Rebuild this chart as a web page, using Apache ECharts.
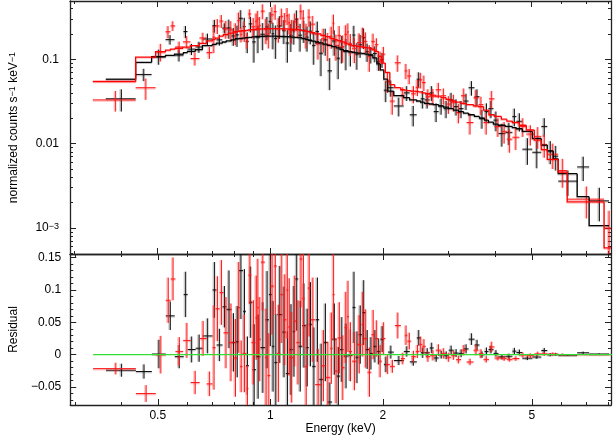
<!DOCTYPE html>
<html><head><meta charset="utf-8">
<script src="https://cdn.jsdelivr.net/npm/echarts@6/dist/echarts.min.js"></script>
<style>html,body{margin:0;padding:0;background:#fff}#c{width:613px;height:436px}</style>
</head><body><div id="c"></div>
<script>
// ---------------- data (energies in keV, counts in s^-1 keV^-1) ----------------
const blackEdges = [0.3635,0.4369,0.4820,0.5252,0.5550,0.5865,0.6011,0.6313,0.6590,0.7007,
 0.7181,0.7450,0.7635,0.7873,0.8068,0.8243,0.8448,0.8605,0.8765,0.8955,
 0.9149,0.9405,0.9698,0.9908,1.0092,1.0248,1.0439,1.0764,1.0997,1.1236,
 1.1480,1.1657,1.1874,1.2168,1.2433,1.2663,1.2938,1.3219,1.3506,1.3841,
 1.4228,1.4627,1.5036,1.5362,1.5695,1.6184,1.6586,1.6894,1.7208,1.7581,
 1.7963,1.8352,1.8808,1.9275,1.9693,2.0121,2.0620,2.1393,2.2746,2.3599,
 2.4635,2.5247,2.5874,2.6680,2.7342,2.8194,2.9072,2.9977,3.0911,3.1873,
 3.2866,3.3889,3.5160,3.6255,3.7384,3.8312,3.9505,4.0735,4.2522,4.4388,
 4.5490,4.7196,5.0182,5.3030,5.5018,5.7080,5.8857,6.6133,7.1183,8.0471];
const blackFlux = [0.034,0.066,0.108,0.171,0.112,0.213,0.132,0.140,0.174,0.250,
 0.170,0.234,0.235,0.189,0.195,0.306,0.245,0.163,0.263,0.161,
 0.183,0.198,0.242,0.281,0.201,0.176,0.249,0.221,0.156,0.192,
 0.219,0.299,0.193,0.221,0.183,0.215,0.146,0.214,0.118,0.170,
 0.073,0.165,0.103,0.139,0.124,0.122,0.194,0.115,0.149,0.182,
 0.123,0.114,0.117,0.093,0.099,0.043,0.046,0.028,0.040,0.022,
 0.058,0.034,0.033,0.040,0.024,0.028,0.026,0.033,0.0275,0.026,
 0.032,0.046,0.036,0.020,0.024,0.026,0.019,0.0132,0.0136,0.021,
 0.0184,0.0086,0.0079,0.016,0.0082,0.0071,0.0036,0.0053,0.0021];
const blackErr = [0.010,0.011,0.022,0.022,0.018,0.035,0.020,0.021,0.027,0.043,
 0.025,0.032,0.060,0.045,0.055,0.075,0.065,0.045,0.055,0.070,
 0.065,0.070,0.075,0.080,0.070,0.075,0.075,0.070,0.065,0.070,
 0.070,0.080,0.070,0.065,0.060,0.065,0.060,0.065,0.055,0.060,
 0.030,0.055,0.045,0.050,0.050,0.040,0.055,0.040,0.045,0.050,
 0.030,0.025,0.025,0.020,0.020,0.012,0.010,0.007,0.008,0.006,
 0.012,0.008,0.007,0.008,0.006,0.006,0.006,0.007,0.006,0.006,
 0.007,0.009,0.008,0.005,0.006,0.006,0.005,0.004,0.004,0.005,
 0.0045,0.003,0.0028,0.004,0.0025,0.0023,0.0012,0.0017,0.0009];
const blackModel = [0.058,0.092,0.107,0.111,0.115,0.120,0.124,0.130,0.145,0.150,
 0.155,0.160,0.165,0.170,0.175,0.176,0.178,0.180,0.182,0.184,
 0.186,0.187,0.188,0.188,0.188,0.188,0.187,0.186,0.185,0.184,
 0.183,0.182,0.180,0.176,0.172,0.168,0.164,0.160,0.156,0.151,
 0.146,0.141,0.136,0.131,0.126,0.123,0.121,0.119,0.118,0.117,
 0.115,0.112,0.104,0.088,0.075,0.058,0.042,0.037,0.035,0.033,
 0.032,0.031,0.030,0.0295,0.029,0.028,0.027,0.026,0.025,0.024,
 0.023,0.022,0.021,0.020,0.019,0.018,0.017,0.0165,0.016,0.0155,
 0.015,0.014,0.0115,0.0096,0.0082,0.0066,0.0044,0.00235,0.00107];

const redEdges = [0.3357,0.4369,0.4940,0.5252,0.5415,0.5574,0.5847,0.6122,0.6470,0.6753,
 0.7007,0.7137,0.7314,0.7495,0.7729,0.7970,0.8167,0.8294,0.8422,0.8631,
 0.8738,0.8900,0.9121,0.9217,0.9308,0.9434,0.9668,0.9818,1.0000,1.0217,
 1.0407,1.0633,1.0830,1.1031,1.1167,1.1305,1.1515,1.1729,1.1983,1.2168,
 1.2357,1.2586,1.2820,1.3178,1.3672,1.4055,1.4449,1.4672,1.4853,1.5129,
 1.5457,1.5792,1.6036,1.6234,1.6535,1.7050,1.7529,1.7799,1.8185,1.8636,
 1.9040,1.9453,1.9876,2.0307,2.0875,2.1525,2.2332,2.2886,2.3240,2.3817,
 2.4484,2.5015,2.5480,2.6033,2.6762,2.7681,2.8629,2.9521,3.0440,3.1388,
 3.2366,3.3476,3.4945,3.6033,3.7155,3.8430,3.9748,4.1491,4.2915,4.4388,
 4.6336,4.8371,5.0801,5.3030,5.5018,5.8857,6.2198,7.8040,8.2970];
const redFlux = [0.033,0.046,0.123,0.212,0.249,0.140,0.161,0.102,0.179,0.120,
 0.183,0.249,0.284,0.230,0.223,0.207,0.287,0.198,0.220,0.168,
 0.345,0.243,0.283,0.300,0.252,0.372,0.226,0.199,0.337,0.368,
 0.232,0.323,0.283,0.329,0.271,0.223,0.278,0.243,0.370,0.307,
 0.199,0.316,0.261,0.154,0.175,0.150,0.188,0.268,0.146,0.192,
 0.141,0.198,0.211,0.154,0.135,0.158,0.187,0.163,0.109,0.163,
 0.149,0.098,0.115,0.055,0.032,0.091,0.0375,0.073,0.0635,0.039,
 0.0465,0.057,0.053,0.036,0.0365,0.0435,0.037,0.0295,0.031,0.0234,
 0.037,0.0178,0.035,0.029,0.0178,0.034,0.016,0.014,0.0113,0.0119,
 0.016,0.013,0.0122,0.0098,0.0075,0.0048,0.0022,0.0010];
const redErr = [0.009,0.013,0.029,0.035,0.033,0.022,0.027,0.018,0.027,0.019,
 0.065,0.050,0.050,0.055,0.060,0.060,0.070,0.040,0.060,0.035,
 0.045,0.065,0.065,0.075,0.065,0.075,0.075,0.065,0.075,0.075,
 0.075,0.075,0.070,0.075,0.075,0.070,0.070,0.065,0.075,0.075,
 0.065,0.075,0.065,0.055,0.055,0.055,0.055,0.070,0.050,0.055,
 0.050,0.055,0.055,0.045,0.045,0.045,0.050,0.045,0.038,0.038,
 0.028,0.025,0.025,0.015,0.010,0.020,0.009,0.015,0.013,0.009,
 0.010,0.012,0.011,0.008,0.008,0.009,0.008,0.007,0.007,0.006,
 0.008,0.005,0.008,0.007,0.005,0.008,0.004,0.004,0.0035,0.0035,
 0.004,0.0035,0.0035,0.003,0.0025,0.0018,0.0009,0.0006];
const redModel = [0.0545,0.106,0.123,0.128,0.132,0.135,0.139,0.145,0.154,0.165,
 0.172,0.178,0.188,0.196,0.204,0.212,0.214,0.216,0.218,0.220,
 0.222,0.224,0.226,0.227,0.228,0.229,0.230,0.231,0.231,0.231,
 0.230,0.230,0.229,0.229,0.228,0.227,0.226,0.224,0.222,0.220,
 0.217,0.213,0.207,0.200,0.192,0.185,0.178,0.175,0.171,0.166,
 0.161,0.156,0.152,0.149,0.145,0.142,0.140,0.138,0.136,0.132,
 0.124,0.108,0.090,0.070,0.050,0.046,0.0435,0.043,0.0425,0.042,
 0.0415,0.041,0.040,0.039,0.0375,0.0365,0.035,0.0335,0.032,0.031,
 0.030,0.029,0.028,0.0275,0.025,0.022,0.021,0.0195,0.0185,0.0178,
 0.0165,0.0145,0.011,0.0085,0.0065,0.0046,0.00204,0.00058];

// axis ranges and ticks
const xRange = [0.2917, 8.144];
const xMajorTicks = [0.5, 1, 2, 5];
const xMinorTicks = [0.3, 0.4, 0.6, 0.7, 0.8, 0.9, 3, 4, 6, 7, 8];
const topRange = [4.92e-4, 0.49];
const topMajorTicks = [0.001, 0.01, 0.1];
const topMinorTicks = [0.0005,0.0006,0.0007,0.0008,0.0009,0.002,0.003,0.004,0.005,0.006,0.007,0.008,0.009,
 0.02,0.03,0.04,0.05,0.06,0.07,0.08,0.09,0.2,0.3,0.4];
const resRange = [-0.0777, 0.1554];
const resMajorTicks = [-0.05, 0, 0.05, 0.1, 0.15];
const resMinorTicks = [-0.07,-0.06,-0.04,-0.03,-0.02,-0.01,0.01,0.02,0.03,0.04,0.06,0.07,0.08,0.09,0.11,0.12,0.13,0.14];

// ---------------- build ----------------
const L = Math.log10;
const FONT = 'Liberation Sans, Arial, sans-serif';
const AX = '#222';

function errData(edges, flux, err, model, residual) {
  return flux.map((f, i) => {
    const lo = edges[i], hi = edges[i + 1], mid = (lo + hi) / 2;
    if (residual) {
      const r = f - model[i];
      return [L(lo), L(hi), L(mid), r, r - err[i], r + err[i]];
    }
    return [L(lo), L(hi), L(mid), L(f), L(Math.max(f - err[i], 1e-7)), L(f + err[i])];
  });
}
function modelData(edges, model) {
  return model.map((m, i) => [L(edges[i]), L(edges[i + 1]), L(m), i > 0 ? L(model[i - 1]) : NaN]);
}
function cl(v, a, b) { return Math.max(a, Math.min(b, v)); }

function errRender(core, halo) {
  return function (params, api) {
    const cs = params.coordSys;
    const pL = api.coord([api.value(0), api.value(3)]);
    const pR = api.coord([api.value(1), api.value(3)]);
    const pLo = api.coord([api.value(2), api.value(4)]);
    const pHi = api.coord([api.value(2), api.value(5)]);
    const xc = pLo[0];
    const y1 = cl(pHi[1], cs.y, cs.y + cs.height), y2 = cl(pLo[1], cs.y, cs.y + cs.height);
    const hy = pL[1];
    const hIn = hy >= cs.y && hy <= cs.y + cs.height;
    const x1 = cl(pL[0], cs.x, cs.x + cs.width), x2 = cl(pR[0], cs.x, cs.x + cs.width);
    const ch = [];
    const xIn = xc >= cs.x && xc <= cs.x + cs.width;
    if (xIn && y2 > y1) ch.push({ type: 'line', shape: { x1: xc - 1, y1: y1, x2: xc - 1, y2: y2 }, style: { stroke: halo, lineWidth: 2 } });
    if (hIn) ch.push({ type: 'line', shape: { x1: x1, y1: hy + 1, x2: x2, y2: hy + 1 }, style: { stroke: halo, lineWidth: 1.6 } });
    if (xIn && y2 > y1) ch.push({ type: 'line', shape: { x1: xc, y1: y1, x2: xc, y2: y2 }, style: { stroke: core, lineWidth: 1 } });
    if (hIn) ch.push({ type: 'line', shape: { x1: x1, y1: hy, x2: x2, y2: hy }, style: { stroke: core, lineWidth: 1 } });
    return { type: 'group', children: ch, silent: true };
  };
}
function modelRender(core, halo) {
  return function (params, api) {
    const cs = params.coordSys;
    const a = api.coord([api.value(0), api.value(2)]);
    const b = api.coord([api.value(1), api.value(2)]);
    const x1 = cl(a[0], cs.x, cs.x + cs.width), x2 = cl(b[0], cs.x, cs.x + cs.width);
    const yb = cl(a[1], cs.y, cs.y + cs.height);
    const ch = [];
    const pts = [];
    const pv = api.value(3);
    if (!isNaN(pv) && a[0] >= cs.x && a[0] <= cs.x + cs.width) {
      const p = api.coord([api.value(0), pv]);
      pts.push([x1, cl(p[1], cs.y, cs.y + cs.height)]);
    }
    pts.push([x1, yb]); pts.push([x2, yb]);
    ch.push({ type: 'polyline', shape: { points: pts.map(p => [p[0], p[1] + 1]) }, style: { stroke: halo, lineWidth: 1.5, fill: null } });
    ch.push({ type: 'polyline', shape: { points: pts }, style: { stroke: core, lineWidth: 1.3, fill: null } });
    return { type: 'group', children: ch, silent: true };
  };
}

const sup = { fontSize: 9, verticalAlign: 'top', lineHeight: 10, fontFamily: FONT, color: '#000' };
function xFmt(v) { return String(Math.round(Math.pow(10, v) * 100) / 100); }
function topFmt(v) { const r = Math.round(v); return r <= -3 ? '10{s|\u2212' + (-r) + '}' : String(Math.pow(10, r)); }
function resFmt(v) { const s = String(Math.round(v * 100) / 100); return s.replace('-', '\u2212'); }

function axis(o) {
  return {
    type: 'value', gridIndex: o.grid, position: o.pos, min: o.min, max: o.max,
    axisLine: { show: !!o.line, onZero: false, lineStyle: { color: AX, width: 1.3 } },
    axisTick: { show: true, inside: true, length: o.len, customValues: o.ticks, lineStyle: { color: AX, width: 1 } },
    axisLabel: o.fmt ? { show: true, customValues: o.ticks, formatter: o.fmt, margin: o.margin,
      fontFamily: FONT, fontSize: 12, color: '#000', rich: { s: sup } } : { show: false },
    splitLine: { show: false },
    name: o.name || '', nameLocation: 'middle', nameGap: o.nameGap || 0,
    nameTextStyle: { fontFamily: FONT, fontSize: 12, color: '#000', rich: { s: sup } },
    silent: true
  };
}
function xAxes(grid, labels) {
  const r = [L(xRange[0]), L(xRange[1])];
  const maj = xMajorTicks.map(L), min = xMinorTicks.map(L);
  return [
    axis({ grid, pos: 'bottom', min: r[0], max: r[1], line: true, len: 6, ticks: maj, fmt: labels ? xFmt : null, margin: 5,
      name: labels ? 'Energy (keV)' : '', nameGap: 18 }),
    axis({ grid, pos: 'bottom', min: r[0], max: r[1], len: 3, ticks: min }),
    axis({ grid, pos: 'top', min: r[0], max: r[1], line: true, len: 6, ticks: maj }),
    axis({ grid, pos: 'top', min: r[0], max: r[1], len: 3, ticks: min })
  ];
}
function yAxes(grid, min, max, maj, mnr, fmt, name, margin) {
  return [
    axis({ grid, pos: 'left', min, max, line: true, len: 6, ticks: maj, fmt, margin, name, nameGap: 50 }),
    axis({ grid, pos: 'left', min, max, len: 3, ticks: mnr }),
    axis({ grid, pos: 'right', min, max, line: true, len: 6, ticks: maj }),
    axis({ grid, pos: 'right', min, max, len: 3, ticks: mnr })
  ];
}

const xAxisList = xAxes(0, false).concat(xAxes(1, true));
const yAxisList = yAxes(0, L(topRange[0]), L(topRange[1]), topMajorTicks.map(L), topMinorTicks.map(L), topFmt,
  'normalized counts s{s|\u22121} keV{s|\u22121}', 11)
  .concat(yAxes(1, resRange[0], resRange[1], resMajorTicks, resMinorTicks, resFmt, 'Residual', 9));

const BLK = '#111', BLKH = 'rgba(0,0,0,0.22)', RED = '#ff1a1a', REDH = 'rgba(255,0,0,0.25)';

const series = [
  { type: 'custom', xAxisIndex: 0, yAxisIndex: 0, clip: true, renderItem: errRender(BLK, BLKH), data: errData(blackEdges, blackFlux, blackErr, blackModel, false) },
  { type: 'custom', xAxisIndex: 0, yAxisIndex: 0, clip: true, renderItem: errRender(RED, REDH), data: errData(redEdges, redFlux, redErr, redModel, false) },
  { type: 'custom', xAxisIndex: 0, yAxisIndex: 0, clip: true, renderItem: modelRender('#000', 'rgba(0,0,0,0.2)'), data: modelData(blackEdges, blackModel) },
  { type: 'custom', xAxisIndex: 0, yAxisIndex: 0, clip: true, renderItem: modelRender('#ff0000', 'rgba(255,0,0,0.22)'), data: modelData(redEdges, redModel) },
  { type: 'custom', xAxisIndex: 4, yAxisIndex: 4, clip: true, renderItem: errRender(BLK, BLKH), data: errData(blackEdges, blackFlux, blackErr, blackModel, true) },
  { type: 'custom', xAxisIndex: 4, yAxisIndex: 4, clip: true, renderItem: errRender(RED, REDH), data: errData(redEdges, redFlux, redErr, redModel, true) },
  { type: 'line', xAxisIndex: 4, yAxisIndex: 4, clip: true, symbol: 'none', silent: true,
    lineStyle: { color: '#33dd33', width: 1.2 },
    data: [[L(redEdges[0]), 0], [L(redEdges[redEdges.length - 1]), 0]] }
];

const chart = echarts.init(document.getElementById('c'), null, { renderer: 'canvas' });
chart.setOption({
  animation: false,
  backgroundColor: '#fff',
  grid: [
    { left: 67, right: 2, top: 1, height: 253 },
    { left: 67, right: 2, top: 254, height: 152 }
  ],
  xAxis: xAxisList,
  yAxis: yAxisList,
  series: series
});
</script>
</body></html>
